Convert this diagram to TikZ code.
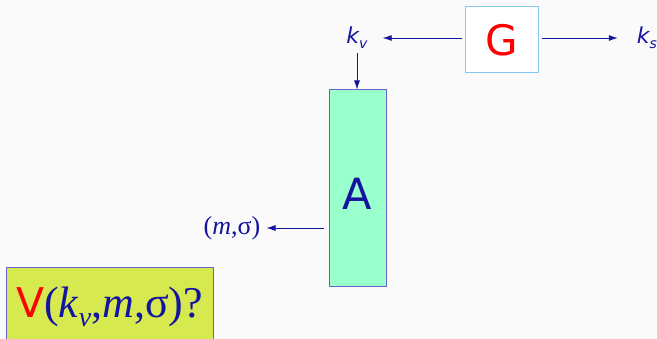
\documentclass[tikz,border=0pt]{standalone}
\usepackage{fontspec}
\setmainfont{Liberation Serif}
\setsansfont{DejaVu Sans}
\definecolor{navy}{RGB}{20,20,160}
\definecolor{gline}{RGB}{130,200,240}
\definecolor{boxline}{RGB}{100,100,200}
\definecolor{agreen}{RGB}{153,255,204}
\definecolor{vyellow}{RGB}{214,234,80}
\definecolor{bgray}{RGB}{250,250,250}
\usetikzlibrary{arrows.meta,positioning}

\begin{document}
\begin{tikzpicture}[x=1pt,y=-1pt,
  blk/.style={draw,line width=1pt,inner sep=0pt,align=center},
  lbl/.style={text=navy,font=\sffamily\itshape\fontsize{22}{22}\selectfont,inner sep=1pt},
  arr/.style={-{Latex[length=9pt,width=6pt]},navy,line width=0.8pt}
]
  % page
  \fill[bgray] (0,0) rectangle (657,339);
  \clip (0,0) rectangle (657,339);

  % generator
  \node[blk,draw=gline,fill=white,minimum width=73pt,minimum height=66pt,
    text=red,font=\sffamily\fontsize{42}{42}\selectfont] (gbox) at (501.5,40) {G};
  \node[lbl] (kv) at (357,38) {k\raisebox{-5pt}{\fontsize{14}{14}\selectfont v}};
  \node[lbl] (ks) at (647,38) {k\raisebox{-5pt}{\fontsize{14}{14}\selectfont s}};
  \draw[arr,shorten <=3pt,shorten >=14pt] (gbox.west |- kv) -- (kv);
  \draw[arr,shorten <=3pt,shorten >=18pt] (gbox.east |- ks) -- (ks);

  % analyser
  \node[blk,draw=boxline,fill=agreen,minimum width=57pt,minimum height=197pt] (abox) at (358,188.5) {};
  \node[text=navy,font=\sffamily\fontsize{43}{43}\selectfont] (alabel) at (357,193.5) {A};
  \draw[arr,shorten <=3pt] (kv.south) -- (kv.south |- abox.north);

  \node[text=navy,font=\fontsize{26}{26}\selectfont,inner sep=1pt] (msig) at (232,228) {(\textit{m},σ)};
  \draw[arr,shorten <=5pt,shorten >=5pt] (abox.west |- msig) -- (msig.east);

  % question
  \node[blk,draw=boxline,fill=vyellow,minimum width=207pt,minimum height=78pt,
    text=navy,font=\fontsize{44}{44}\selectfont] (vbox) at (109.5,307)
    {{\sffamily\fontsize{41}{41}\selectfont\color{red}V}(\textit{k}\raisebox{-9pt}{\fontsize{28}{28}\selectfont\textit{v}},\textit{m},σ)?};
\end{tikzpicture}
\end{document}
